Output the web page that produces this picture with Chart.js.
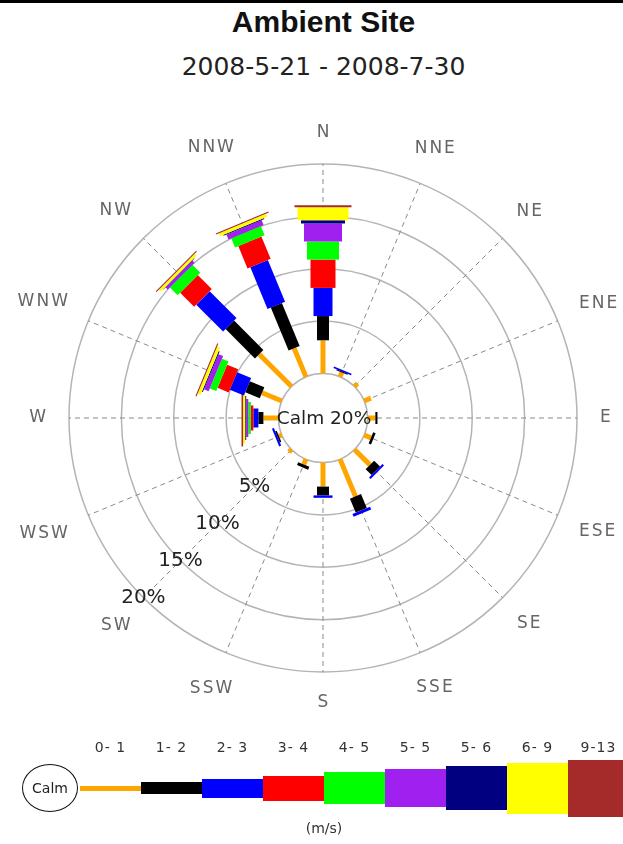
<!DOCTYPE html>
<html>
<head>
<meta charset="utf-8">
<script src="https://cdn.jsdelivr.net/npm/chart.js@4/dist/chart.umd.min.js"></script>
<style>
html,body{margin:0;padding:0;background:#fff;width:623px;height:844px;overflow:hidden;font-family:"DejaVu Sans",Verdana,sans-serif;}
#wrap{position:relative;width:623px;height:844px;}
#topline{position:absolute;left:0;top:0;width:623px;height:3px;background:#000;}
#title{position:absolute;left:0;top:4px;width:647px;text-align:center;font:bold 30px "Liberation Sans",Arial,sans-serif;color:#111;line-height:36px;}
#subtitle{position:absolute;left:0;top:51px;width:647px;text-align:center;font:25px "DejaVu Sans",Verdana,sans-serif;color:#222;line-height:32px;}
canvas{position:absolute;left:0;top:0;}
#calm{position:absolute;left:22px;top:764px;width:56px;height:48px;border:1.5px solid #111;border-radius:50%;box-sizing:border-box;font:14px "DejaVu Sans",sans-serif;color:#222;display:flex;align-items:center;justify-content:center;background:#fff;}
.seg{position:absolute;}
.lab{position:absolute;top:739px;width:61px;text-align:center;font:14px "DejaVu Sans",sans-serif;color:#333;letter-spacing:1px;}
#unit{position:absolute;left:0;top:820px;width:648px;text-align:center;font:14px "DejaVu Sans",sans-serif;color:#333;}
</style>
</head>
<body>
<div id="wrap">
  <div id="topline"></div>
  <div id="title">Ambient Site</div>
  <div id="subtitle">2008-5-21 - 2008-7-30</div>
  <canvas id="c" width="623" height="844"></canvas>
  <div id="legend"></div>
</div>
<script>
// ---- data ----
const directions = ['N','NNE','NE','ENE','E','ESE','SE','SSE','S','SSW','SW','WSW','W','WNW','NW','NNW'];
const speedClasses = ['0- 1','1- 2','2- 3','3- 4','4- 5','5- 5','5- 6','6- 9','9-13'];
const calmPercent = 20;
const tickValues = [5, 10, 15, 20];
const tickLabels = ['5%', '10%', '15%', '20%'];

const speed0to1  = [3.17,0.45,0.40,0.70,0.75,0.70,2.08,3.85,2.30,0.55,0.35,0.30,1.44,2.05,4.37,2.95];
const speed1to2  = [2.31,0.10,0.00,0.00,0.20,0.25,0.80,1.44,0.84,0.30,0.00,0.15,0.48,1.50,3.96,4.45];
const speed2to3  = [2.69,0.15,0.00,0.00,0.00,0.00,0.20,0.29,0.23,0.00,0.00,0.20,0.48,1.45,3.63,4.30];
const speed3to4  = [2.70,0.00,0.00,0.00,0.00,0.00,0.00,0.00,0.00,0.00,0.00,0.00,0.24,1.15,1.89,2.31];
const speed4to5  = [1.73,0.00,0.00,0.00,0.00,0.00,0.00,0.00,0.00,0.00,0.00,0.00,0.24,0.67,1.05,0.94];
const speed5to5  = [1.73,0.00,0.00,0.00,0.00,0.00,0.00,0.00,0.00,0.00,0.00,0.00,0.20,0.48,0.30,0.50];
const speed5to6  = [0.29,0.00,0.00,0.00,0.00,0.00,0.00,0.00,0.00,0.00,0.00,0.00,0.10,0.10,0.05,0.10];
const speed6to9  = [1.25,0.00,0.00,0.00,0.00,0.00,0.00,0.00,0.00,0.00,0.00,0.00,0.20,0.30,0.25,0.30];
const speed9to13 = [0.19,0.00,0.00,0.00,0.00,0.00,0.00,0.00,0.00,0.00,0.00,0.00,0.15,0.10,0.10,0.10];

// ---- styles ----
const classColors = ['#FFA500','#000000','#0000FF','#FF0000','#00FF00','#A020F0','#000080','#FFFF00','#A52A2A'];
const classBarWidths = [5,12,19,25,32,38,44,51,57];
const seriesValues = [speed0to1,speed1to2,speed2to3,speed3to4,speed4to5,speed5to5,speed5to6,speed6to9,speed9to13];

const datasets = seriesValues.map((vals, c) => ({
  label: speedClasses[c],
  data: vals,
  backgroundColor: classColors[c],
  borderColor: classColors[c],
  barWidth: classBarWidths[c],
  showLine: false,
  borderWidth: 0,
  pointRadius: 0,
  pointHoverRadius: 0,
  pointHitRadius: 0,
  fill: false
}));

const windRosePlugin = {
  id: 'windRose',
  beforeDatasetsDraw(chart) {
    const s = chart.scales.r;
    const ctx = chart.ctx;
    const r0 = s.getDistanceFromCenterForValue(0);
    ctx.save();
    ctx.beginPath();
    ctx.arc(s.xCenter, s.yCenter, r0, 0, Math.PI * 2);
    ctx.fillStyle = '#fff';
    ctx.fill();
    ctx.lineWidth = 1.5;
    ctx.strokeStyle = '#b4b4b4';
    ctx.stroke();
    const n = chart.data.labels.length;
    ctx.lineCap = 'butt';
    for (let i = 0; i < n; i++) {
      let cum = 0;
      chart.data.datasets.forEach(ds => {
        const v = ds.data[i];
        if (v > 0) {
          const p1 = s.getPointPositionForValue(i, cum);
          const p2 = s.getPointPositionForValue(i, cum + v);
          ctx.beginPath();
          ctx.moveTo(p1.x, p1.y);
          ctx.lineTo(p2.x, p2.y);
          ctx.lineWidth = ds.barWidth;
          ctx.strokeStyle = ds.backgroundColor;
          ctx.stroke();
        }
        cum += v;
      });
    }
    ctx.restore();
  },
  afterDatasetsDraw(chart) {
    const s = chart.scales.r;
    const ctx = chart.ctx;
    ctx.save();
    ctx.fillStyle = '#222';
    ctx.font = '18.5px "DejaVu Sans"';
    ctx.textAlign = 'center';
    ctx.textBaseline = 'middle';
    ctx.fillText('Calm ' + calmPercent + '%', s.xCenter + 1, s.yCenter + 1);
    const swIndex = directions.indexOf('SW');
    ctx.font = '20px "DejaVu Sans"';
    tickValues.forEach((v, k) => {
      const p = s.getPointPositionForValue(swIndex, v);
      ctx.fillText(tickLabels[k], p.x, p.y);
    });
    // direction labels, centered on the ray just outside the outer ring
    ctx.font = '17px "DejaVu Sans"';
    ctx.fillStyle = '#666';
    ctx.letterSpacing = '2px';
    const D = s.drawingArea + 23;
    const hh = 8;
    directions.forEach((lab, i) => {
      const a = i * 2 * Math.PI / directions.length;
      const hw = (ctx.measureText(lab).width - 2) / 2;
      const off = Math.abs(hw * Math.sin(a)) + Math.abs(hh * Math.cos(a));
      const p = s.getPointPosition(i, D + off);
      ctx.textAlign = 'center';
      ctx.textBaseline = 'middle';
      ctx.fillText(lab, p.x + 1, p.y);
    });
    ctx.restore();
  }
};

new Chart(document.getElementById('c'), {
  type: 'radar',
  data: { labels: directions, datasets: datasets },
  options: {
    responsive: false,
    animation: false,
    devicePixelRatio: 1,
    layout: { padding: { left: 69, right: 46, top: 164, bottom: 172 } },
    plugins: { legend: { display: false }, tooltip: { enabled: false }, title: { display: false } },
    elements: { line: { borderWidth: 0 } },
    scales: {
      r: {
        min: -4.25,
        max: 20,
        startAngle: 0,
        ticks: { display: false },
        afterBuildTicks: (scale) => { scale.ticks = tickValues.map(v => ({ value: v })); },
        grid: { circular: true, color: '#b4b4b4', lineWidth: 1.5 },
        angleLines: { display: true, color: '#8a8a8a', lineWidth: 1, borderDash: [5, 4] },
        pointLabels: { display: false }
      }
    }
  },
  plugins: [windRosePlugin]
});

// ---- legend ----
const legend = document.getElementById('legend');
const calm = document.createElement('div');
calm.id = 'calm';
calm.textContent = 'Calm';
const segStart = 80, segW = 61, legendY = 788;
speedClasses.forEach((lab, i) => {
  const seg = document.createElement('div');
  seg.className = 'seg';
  const h = classBarWidths[i];
  seg.style.left = (segStart + i * segW) + 'px';
  seg.style.width = segW + 'px';
  seg.style.top = (legendY - h / 2) + 'px';
  seg.style.height = h + 'px';
  seg.style.background = classColors[i];
  legend.appendChild(seg);
  const l = document.createElement('div');
  l.className = 'lab';
  l.style.left = (segStart + i * segW) + 'px';
  l.textContent = lab;
  legend.appendChild(l);
});
legend.appendChild(calm);
const unit = document.createElement('div');
unit.id = 'unit';
unit.textContent = '(m/s)';
legend.appendChild(unit);
</script>
</body>
</html>
